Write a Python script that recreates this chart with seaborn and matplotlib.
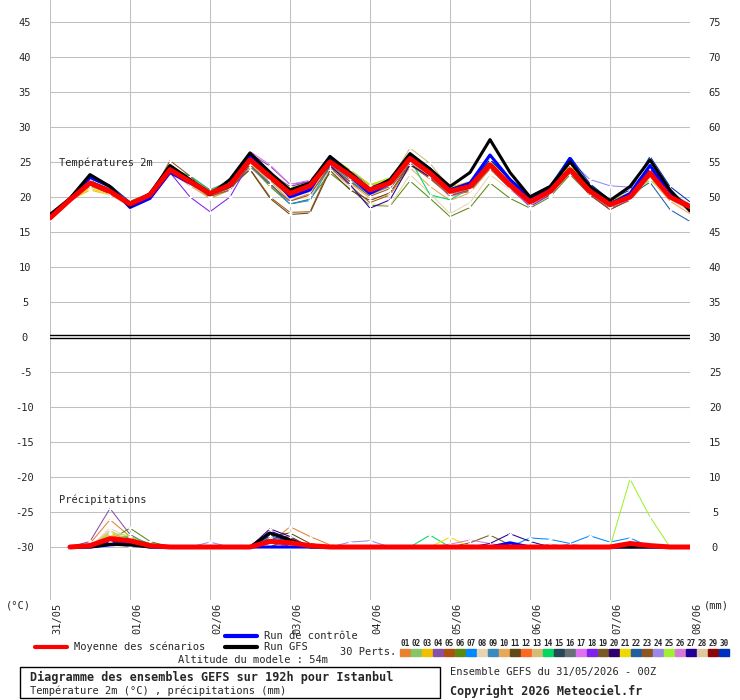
import pandas as pd
import seaborn as sns
import matplotlib.pyplot as plt
import matplotlib.transforms as mtransforms
from matplotlib.lines import Line2D
from matplotlib.patches import Rectangle

# run time steps, hours after 31/05 00Z
hours = list(range(0, 193, 6))
rain_hours = hours[1:]
day_labels = ["31/05", "01/06", "02/06", "03/06", "04/06",
              "05/06", "06/06", "07/06", "08/06"]

member_colors = ["#E8822E", "#88C468", "#F0C000", "#8850A8", "#B05010",
                 "#5A8A10", "#0088FF", "#E8D4B0", "#3A8ABE", "#E8A858",
                 "#604818", "#FF6820", "#D4BC78", "#00D860", "#284858",
                 "#687078", "#E070F0", "#8020F0", "#785828", "#300070",
                 "#F0D800", "#2060A0", "#8C5820", "#9C88E8", "#A0F030",
                 "#D878D8", "#200098", "#E0C8A0", "#8C0808", "#0030C0"]

# 2m temperature (°C), 30 perturbed members
t01 = [17.0, 19.4, 21.5, 20.6, 18.8, 20.0, 24.0, 22.0, 19.8, 21.0, 24.8, 22.3, 19.5, 20.5, 24.5, 22.5, 20.3, 21.5, 25.0, 22.8, 20.2, 21.0, 24.0, 21.3, 19.0, 20.5, 23.5, 20.5, 18.6, 19.8, 23.0, 19.8, 18.2]
t02 = [17.1, 19.8, 22.3, 21.2, 19.3, 20.4, 24.2, 22.8, 20.8, 22.0, 25.6, 23.4, 21.0, 22.0, 25.4, 23.6, 21.5, 22.4, 25.8, 23.8, 21.2, 21.8, 24.9, 22.0, 19.6, 21.0, 24.2, 21.0, 19.2, 20.2, 23.6, 20.3, 18.9]
t03 = [16.9, 19.5, 21.0, 20.3, 19.0, 20.2, 23.8, 22.5, 20.7, 22.1, 25.5, 23.3, 21.3, 22.3, 25.6, 23.9, 21.8, 22.6, 26.0, 23.9, 21.4, 22.2, 25.3, 22.4, 20.0, 21.3, 24.5, 21.4, 19.5, 20.6, 24.0, 20.6, 19.0]
t04 = [17.0, 19.9, 22.6, 21.6, 19.1, 20.3, 24.1, 23.0, 21.0, 22.3, 26.2, 24.4, 21.8, 22.2, 25.3, 23.5, 21.2, 22.0, 25.7, 23.2, 20.6, 21.3, 24.3, 21.5, 19.0, 20.6, 23.8, 20.7, 18.7, 19.9, 23.3, 20.2, 18.7]
t05 = [17.1, 19.6, 22.0, 20.7, 19.0, 20.4, 24.6, 22.6, 20.5, 21.5, 24.0, 20.0, 17.8, 17.9, 24.2, 21.6, 19.2, 20.3, 24.6, 22.6, 20.2, 20.8, 24.0, 21.3, 19.0, 20.3, 23.6, 20.4, 18.4, 19.6, 23.2, 20.1, 18.5]
t06 = [17.0, 19.5, 21.7, 20.5, 18.8, 20.0, 23.6, 21.8, 20.2, 21.2, 24.5, 21.5, 19.0, 19.7, 23.4, 21.2, 18.8, 18.7, 22.3, 19.8, 17.2, 18.5, 22.0, 19.8, 18.4, 20.0, 23.2, 20.3, 18.3, 19.8, 23.0, 20.0, 18.3]
t07 = [16.9, 19.4, 21.8, 21.0, 19.2, 19.6, 23.7, 22.3, 20.2, 21.0, 24.6, 22.0, 19.0, 19.6, 24.3, 22.3, 20.4, 21.6, 25.4, 23.0, 20.5, 21.4, 24.5, 21.9, 19.4, 21.0, 24.8, 21.3, 19.3, 20.2, 23.5, 20.4, 18.8]
t08 = [17.0, 19.7, 21.3, 20.2, 19.0, 20.3, 24.0, 21.8, 20.0, 21.2, 24.8, 22.4, 19.6, 20.0, 23.8, 21.5, 19.0, 18.8, 23.2, 20.5, 17.6, 19.2, 23.2, 21.0, 19.0, 20.2, 23.6, 20.5, 18.6, 19.6, 22.8, 19.6, 18.0]
t09 = [17.0, 19.6, 21.9, 20.9, 19.3, 20.1, 23.7, 22.2, 20.3, 21.3, 24.3, 21.8, 19.0, 19.5, 24.5, 22.6, 20.6, 21.5, 25.3, 23.2, 20.7, 21.5, 24.6, 21.8, 19.2, 20.8, 24.0, 20.9, 19.0, 20.1, 23.4, 20.1, 18.6]
t10 = [17.0, 19.5, 21.6, 20.4, 18.6, 19.8, 23.5, 21.6, 19.8, 21.0, 24.5, 22.5, 20.0, 20.8, 24.5, 22.0, 19.8, 20.3, 24.2, 21.5, 19.5, 20.6, 24.0, 21.5, 19.5, 20.4, 23.5, 20.6, 18.3, 19.5, 22.6, 19.4, 17.6]
t11 = [17.0, 19.5, 21.8, 20.6, 18.9, 20.2, 24.3, 22.4, 20.4, 21.3, 23.9, 19.8, 17.5, 17.7, 23.8, 21.0, 19.5, 20.6, 24.8, 22.8, 20.4, 21.2, 24.3, 21.6, 19.0, 20.6, 23.8, 20.7, 18.5, 19.9, 23.3, 20.1, 18.4]
t12 = [17.0, 19.7, 22.2, 21.1, 19.3, 20.5, 24.0, 22.6, 20.9, 22.2, 25.5, 23.2, 20.8, 21.8, 25.2, 23.3, 21.2, 22.2, 25.8, 23.7, 21.0, 21.8, 25.0, 22.0, 19.5, 21.0, 24.2, 21.1, 19.0, 20.2, 23.7, 20.5, 18.8]
t13 = [17.0, 19.6, 22.1, 20.9, 19.1, 20.4, 23.9, 22.4, 20.7, 22.0, 25.4, 23.1, 20.9, 21.9, 25.4, 23.4, 21.3, 22.3, 27.0, 24.8, 21.3, 21.6, 24.4, 21.4, 19.1, 20.7, 23.7, 20.8, 18.8, 20.0, 23.3, 20.0, 18.5]
t14 = [17.0, 19.8, 22.4, 21.0, 19.4, 20.5, 24.2, 23.0, 21.0, 22.2, 25.6, 23.4, 21.2, 22.0, 25.2, 23.5, 21.0, 22.0, 25.4, 20.3, 19.6, 21.2, 24.5, 21.6, 19.4, 20.9, 24.0, 21.0, 19.1, 20.3, 23.8, 20.4, 18.8]
t15 = [17.0, 19.6, 22.3, 21.0, 19.2, 20.2, 23.8, 22.1, 20.5, 21.7, 25.5, 23.0, 20.6, 21.8, 25.3, 23.3, 21.1, 22.1, 25.6, 23.5, 20.9, 21.6, 24.8, 21.9, 19.4, 20.9, 24.1, 20.9, 19.0, 20.1, 23.5, 20.1, 18.7]
t16 = [17.0, 19.5, 22.0, 20.8, 19.0, 20.3, 23.8, 22.1, 20.3, 21.6, 25.0, 22.6, 20.2, 21.2, 24.8, 22.8, 20.8, 21.8, 25.3, 23.2, 20.6, 21.3, 24.4, 21.6, 19.2, 20.7, 23.9, 20.7, 18.8, 19.9, 23.4, 20.0, 18.5]
t17 = [17.0, 19.8, 22.2, 21.0, 19.2, 20.3, 24.0, 22.5, 20.6, 22.0, 26.5, 24.6, 21.8, 22.4, 25.4, 23.6, 21.0, 21.8, 25.2, 23.0, 20.0, 21.0, 24.2, 21.4, 18.8, 20.4, 23.5, 20.4, 18.4, 19.6, 23.0, 19.8, 18.4]
t18 = [17.0, 19.6, 21.8, 20.4, 19.0, 20.2, 23.5, 20.0, 17.9, 20.0, 25.0, 23.4, 21.5, 22.2, 25.6, 23.8, 21.6, 22.4, 25.5, 23.0, 20.4, 21.0, 24.2, 21.3, 18.6, 20.3, 23.6, 20.3, 18.2, 19.6, 23.2, 20.0, 18.4]
t19 = [17.0, 19.6, 21.9, 20.7, 19.0, 20.2, 24.0, 22.0, 20.0, 21.4, 25.2, 22.5, 20.0, 21.0, 24.8, 22.9, 20.6, 21.8, 25.2, 23.0, 20.4, 21.3, 24.4, 21.5, 19.0, 20.5, 23.7, 20.5, 18.4, 19.8, 23.4, 20.6, 18.8]
t20 = [17.0, 19.7, 22.3, 21.1, 19.1, 20.4, 24.0, 22.3, 20.6, 22.0, 25.7, 23.3, 20.9, 21.9, 25.5, 23.4, 21.4, 22.3, 25.8, 23.7, 21.1, 21.8, 25.0, 22.1, 19.6, 21.1, 24.3, 21.2, 19.2, 20.3, 23.8, 20.5, 18.9]
t21 = [17.0, 19.6, 21.2, 20.4, 19.0, 20.2, 23.8, 22.2, 20.4, 21.6, 25.2, 22.8, 20.4, 21.4, 25.0, 23.3, 21.6, 22.6, 25.4, 23.6, 21.4, 22.0, 24.9, 22.2, 19.7, 21.2, 24.6, 21.5, 19.6, 20.6, 23.6, 20.3, 18.8]
t22 = [17.0, 19.6, 22.1, 20.9, 19.2, 20.4, 24.0, 22.3, 20.5, 21.6, 25.3, 22.9, 20.5, 21.5, 25.0, 23.0, 20.9, 21.9, 25.4, 23.4, 20.8, 21.6, 24.7, 21.8, 19.4, 20.9, 24.0, 21.1, 19.3, 20.3, 22.1, 18.2, 16.5]
t23 = [17.0, 19.5, 21.7, 20.5, 18.9, 20.0, 25.2, 23.0, 20.1, 21.0, 24.6, 21.8, 19.4, 20.3, 24.4, 22.2, 20.1, 21.2, 24.8, 22.8, 20.2, 21.0, 24.1, 21.3, 18.8, 20.4, 23.5, 20.3, 18.2, 19.6, 23.0, 19.9, 18.3]
t24 = [17.0, 19.7, 22.0, 20.8, 19.1, 20.2, 23.8, 22.2, 20.6, 21.8, 25.4, 23.0, 20.6, 21.6, 25.0, 23.0, 20.8, 21.8, 25.3, 23.2, 20.6, 21.3, 24.5, 21.6, 19.3, 20.8, 25.2, 22.5, 21.6, 21.4, 24.0, 20.8, 18.8]
t25 = [17.0, 19.7, 22.2, 21.0, 19.3, 20.4, 24.2, 22.6, 20.8, 22.0, 25.6, 23.6, 21.3, 22.1, 25.8, 23.9, 21.7, 22.8, 25.6, 23.5, 21.0, 22.2, 25.2, 22.6, 19.8, 21.0, 24.1, 21.4, 19.5, 20.3, 22.4, 20.2, 18.6]
t26 = [17.0, 19.6, 22.0, 20.9, 19.0, 20.3, 23.9, 22.4, 20.7, 21.8, 25.2, 23.2, 20.8, 21.7, 25.1, 23.1, 21.0, 21.9, 25.2, 23.2, 20.5, 21.3, 24.4, 21.3, 18.8, 20.5, 23.6, 20.5, 18.6, 19.8, 23.2, 19.9, 18.4]
t27 = [17.0, 19.6, 22.1, 20.9, 19.2, 20.3, 23.9, 22.3, 20.6, 21.8, 25.5, 23.2, 20.7, 21.4, 24.5, 21.8, 18.4, 19.6, 24.6, 22.9, 20.7, 21.8, 25.4, 22.4, 19.7, 21.1, 24.3, 21.0, 19.0, 20.3, 24.0, 20.4, 18.5]
t28 = [17.0, 19.5, 21.8, 20.6, 19.0, 20.1, 23.6, 21.9, 20.2, 21.4, 25.0, 22.7, 20.3, 21.3, 24.8, 22.8, 20.7, 21.7, 25.0, 23.0, 20.4, 21.2, 24.2, 21.4, 19.1, 20.5, 23.6, 20.5, 18.5, 19.7, 23.0, 19.8, 18.2]
t29 = [17.0, 19.6, 22.1, 20.9, 19.1, 20.3, 24.0, 22.3, 20.6, 21.8, 25.3, 22.9, 20.6, 21.7, 25.1, 23.2, 21.1, 22.1, 25.6, 23.5, 20.9, 21.6, 24.7, 21.8, 19.4, 20.9, 24.0, 20.9, 19.0, 20.1, 23.5, 20.1, 18.7]
t30 = [17.0, 19.8, 22.9, 21.7, 19.3, 20.4, 24.0, 22.6, 20.8, 22.0, 25.6, 23.3, 20.9, 21.8, 25.3, 23.5, 21.3, 22.4, 25.7, 23.8, 21.2, 22.0, 25.3, 22.6, 20.2, 21.6, 25.8, 21.9, 19.6, 21.0, 25.8, 21.5, 19.3]

t_control = [17.0, 19.8, 22.8, 21.5, 18.5, 19.8, 23.5, 22.0, 20.5, 21.5, 25.8, 23.5, 20.0, 21.0, 25.5, 23.0, 20.5, 22.0, 26.0, 24.0, 21.0, 22.0, 26.0, 22.5, 19.8, 21.0, 25.5, 21.0, 19.0, 20.5, 24.5, 20.5, 18.5]
t_gfs = [17.5, 19.8, 23.2, 21.5, 18.7, 20.5, 24.5, 22.5, 20.3, 22.5, 26.3, 23.5, 21.0, 22.0, 25.8, 23.5, 21.0, 22.5, 26.2, 24.0, 21.5, 23.5, 28.2, 23.5, 20.0, 21.5, 25.0, 21.5, 19.5, 21.5, 25.3, 21.0, 18.0]
t_mean = [17.0, 19.6, 22.0, 20.8, 19.0, 20.3, 23.9, 22.2, 20.5, 21.7, 25.3, 22.9, 20.5, 21.6, 25.0, 23.1, 21.0, 22.0, 25.5, 23.4, 20.8, 21.5, 24.6, 21.7, 19.3, 20.8, 23.9, 20.8, 18.9, 20.0, 23.4, 20.0, 18.6]

# 6h precipitation (mm), only the non-zero steps: {hour: mm}
p01 = {12: 0.5, 18: 3.9, 24: 1.5, 30: 0.3, 66: 0.5, 72: 2.9, 78: 1.5, 84: 0.3}
p02 = {18: 1.5, 24: 1.0, 30: 0.2}
p03 = {12: 0.3, 18: 1.0, 24: 0.5}
p04 = {12: 0.8, 18: 5.5, 24: 1.8, 30: 0.2, 66: 1.2, 72: 0.5}
p05 = {18: 0.8, 24: 1.2, 30: 0.4, 72: 1.0}
p06 = {18: 1.0, 24: 2.7, 30: 0.8, 66: 1.0, 72: 0.6}
p07 = {18: 0.6, 24: 0.4, 144: 1.3, 150: 1.1, 156: 0.5, 162: 1.6, 168: 0.7, 174: 1.3}
p08 = {18: 2.7, 24: 1.2, 66: 1.5, 72: 0.7}
p09 = {18: 1.2, 24: 0.8, 66: 1.0}
p10 = {18: 2.0, 24: 0.9}
p11 = {18: 0.6, 24: 0.9, 66: 1.6, 72: 2.0, 78: 0.5}
p12 = {18: 1.6, 24: 1.3, 30: 0.3}
p13 = {18: 2.2, 24: 1.0, 66: 0.8}
p14 = {18: 1.3, 24: 1.5, 30: 0.5, 114: 1.7}
p15 = {18: 0.4, 24: 0.6, 66: 1.1}
p16 = {18: 0.9, 24: 0.5}
p17 = {18: 1.0, 24: 0.7, 66: 0.6, 126: 0.3}
p18 = {18: 0.7, 24: 0.5, 30: 0.2}
p19 = {18: 1.1, 24: 1.0, 72: 1.2, 126: 0.6, 132: 1.7, 138: 0.3}
p20 = {18: 0.5, 24: 0.8, 66: 2.6, 72: 1.5}
p21 = {18: 1.8, 24: 1.0, 120: 1.4}
p22 = {18: 1.4, 24: 1.1, 66: 1.3, 72: 0.9}
p23 = {18: 0.9, 24: 0.6, 66: 1.8, 72: 1.4}
p24 = {18: 0.5, 48: 0.7, 90: 0.7, 96: 0.9, 156: 0.4}
p25 = {18: 2.0, 24: 1.6, 174: 9.7, 180: 4.3}
p26 = {18: 1.2, 24: 0.7, 120: 0.4, 126: 1.0, 132: 0.5, 150: 0.4}
p27 = {18: 0.7, 24: 0.9, 66: 2.3, 72: 1.2, 132: 0.5, 138: 1.9, 144: 0.8}
p28 = {18: 2.4, 24: 0.8}
p29 = {18: 0.4, 24: 0.9, 30: 0.3}
p30 = {18: 1.1, 24: 1.0, 30: 0.3, 66: 1.6, 72: 0.9}

p_control = {18: 0.3, 24: 0.5, 138: 0.6}
p_gfs = {18: 0.4, 24: 0.3, 66: 2.0, 72: 1.0}
p_mean = {12: 0.2, 18: 1.2, 24: 0.9, 30: 0.2, 66: 0.8, 72: 0.6, 78: 0.2, 174: 0.5, 180: 0.2}

RAIN_BASE = -30  # precipitation drawn on the lower part, 0 mm at -30

members_t = [t01, t02, t03, t04, t05, t06, t07, t08, t09, t10,
             t11, t12, t13, t14, t15, t16, t17, t18, t19, t20,
             t21, t22, t23, t24, t25, t26, t27, t28, t29, t30]
members_p = [p01, p02, p03, p04, p05, p06, p07, p08, p09, p10,
             p11, p12, p13, p14, p15, p16, p17, p18, p19, p20,
             p21, p22, p23, p24, p25, p26, p27, p28, p29, p30]
names = [f"{k:02d}" for k in range(1, 31)]
for s in members_t + [t_control, t_gfs, t_mean]:
    assert len(s) == len(hours)


def rain_series(p):
    return [RAIN_BASE + p.get(h, 0.0) for h in rain_hours]


temp_long = pd.DataFrame({
    "hour": hours * 30,
    "value": [v for s in members_t for v in s],
    "member": [n for n in names for _ in hours],
})
rain_long = pd.DataFrame({
    "hour": rain_hours * 30,
    "value": [v for p in members_p for v in rain_series(p)],
    "member": [n for n in names for _ in rain_hours],
})

sns.set_style("white")
plt.rcParams["font.family"] = ["DejaVu Sans Mono", "DejaVu Sans"]
W, H = 740, 700
fig = plt.figure(figsize=(W / 100, H / 100), dpi=100)
ax = fig.add_axes([50 / W, 100 / H, 640 / W, 600 / H])


def px(x, y):
    return x / W, 1 - y / H


# grid
for v in range(-30, 50, 5):
    if v != 0:
        ax.axhline(v, color="#C0C0C0", lw=0.75, zorder=0)
for h in range(0, 193, 24):
    ax.axvline(h, color="#C0C0C0", lw=0.75, zorder=0)
ax.axhline(0.25, color="black", lw=1.0, zorder=1)
ax.axhline(-0.2, color="black", lw=1.0, zorder=1)

palette = dict(zip(names, member_colors))
for df in (temp_long, rain_long):
    sns.lineplot(data=df, x="hour", y="value", hue="member", palette=palette,
                 estimator=None, linewidth=0.75, marker="+", markersize=3.5,
                 markeredgewidth=0.8, legend=False, ax=ax, zorder=2)

sns.lineplot(x=hours, y=t_control, color="#0000FF", lw=2.2, ax=ax, zorder=3)
sns.lineplot(x=rain_hours, y=rain_series(p_control), color="#0000FF", lw=2.2, ax=ax, zorder=3)
sns.lineplot(x=hours, y=t_gfs, color="black", lw=2.2, ax=ax, zorder=3)
sns.lineplot(x=rain_hours, y=rain_series(p_gfs), color="black", lw=2.2, ax=ax, zorder=3)
sns.lineplot(x=hours, y=t_mean, color="#FF0000", lw=3.6, ax=ax, zorder=4)
sns.lineplot(x=rain_hours, y=rain_series(p_mean), color="#FF0000", lw=3.6, ax=ax, zorder=4)

ax.set_xlim(0, 192)
ax.set_ylim(-37.57, 48.14)
for sp in ax.spines.values():
    sp.set_visible(False)
ax.set_xlabel("")
ax.set_ylabel("")

fs = 7.5
yt = list(range(-30, 50, 5))
ax.set_yticks(yt)
ax.set_yticklabels([str(v) for v in yt], fontsize=fs)
ax.tick_params(axis="y", length=0, pad=18)
for lbl in ax.get_yticklabels():
    lbl.set_horizontalalignment("center")
ax2 = ax.twinx()
ax2.set_ylim(ax.get_ylim())
ax2.set_yticks(yt)
ax2.set_yticklabels([str(v + 30) for v in yt], fontsize=fs)
ax2.tick_params(axis="y", length=0, pad=18)
for lbl in ax2.get_yticklabels():
    lbl.set_horizontalalignment("center")
for sp in ax2.spines.values():
    sp.set_visible(False)

ax.set_xticks(range(0, 193, 24))
ax.set_xticklabels(day_labels, rotation=90, fontsize=fs)
ax.tick_params(axis="x", length=0, pad=2)
shift = mtransforms.ScaledTranslation(7 / 100, 0, fig.dpi_scale_trans)
for lbl in ax.get_xticklabels():
    lbl.set_transform(lbl.get_transform() + shift)

ax.text(2.7, 24.9, "Températures 2m", fontsize=fs, va="center", ha="left")
ax.text(2.7, -23.3, "Précipitations", fontsize=fs, va="center", ha="left")

fig.text(*px(18, 606), "(°C)", fontsize=fs, ha="center", va="center")
fig.text(*px(716, 606), "(mm)", fontsize=fs, ha="center", va="center")

# legend block
for x0, x1, y, c in [(35, 67, 647, "#FF0000"), (225, 257, 636, "#0000FF"), (225, 257, 647, "black")]:
    fig.add_artist(Line2D([x0 / W, x1 / W], [1 - y / H, 1 - y / H], color=c, lw=3))
fig.text(*px(74, 647), "Moyenne des scénarios", fontsize=fs, va="center")
fig.text(*px(264, 636), "Run de contrôle", fontsize=fs, va="center")
fig.text(*px(264, 647), "Run GFS", fontsize=fs, va="center")
fig.text(*px(253, 660), "Altitude du modele : 54m", fontsize=fs, va="center", ha="center")
fig.text(*px(340, 652), "30 Perts.", fontsize=fs, va="center")
for k, (n, c) in enumerate(zip(names, member_colors)):
    x0 = 400 + 11 * k
    fig.text(*px(x0 + 5, 644), n, fontsize=5.5, fontweight="bold", ha="center", va="center")
    fig.add_artist(Rectangle(px(x0, 656), 10 / W, 7 / H, color=c, transform=fig.transFigure))

fig.add_artist(Rectangle(px(20, 698), 420 / W, 31 / H, fill=False, ec="black", lw=1,
                         transform=fig.transFigure))
fig.text(*px(30, 677), "Diagramme des ensembles GEFS sur 192h pour Istanbul",
         fontsize=8.5, fontweight="bold", va="center")
fig.text(*px(30, 691), "Température 2m (°C) , précipitations (mm)", fontsize=fs, va="center")
fig.text(*px(450, 672), "Ensemble GEFS du 31/05/2026 - 00Z", fontsize=fs, va="center")
fig.text(*px(450, 691), "Copyright 2026 Meteociel.fr", fontsize=8.5, fontweight="bold", va="center")

fig.savefig("out.png", dpi=100)
